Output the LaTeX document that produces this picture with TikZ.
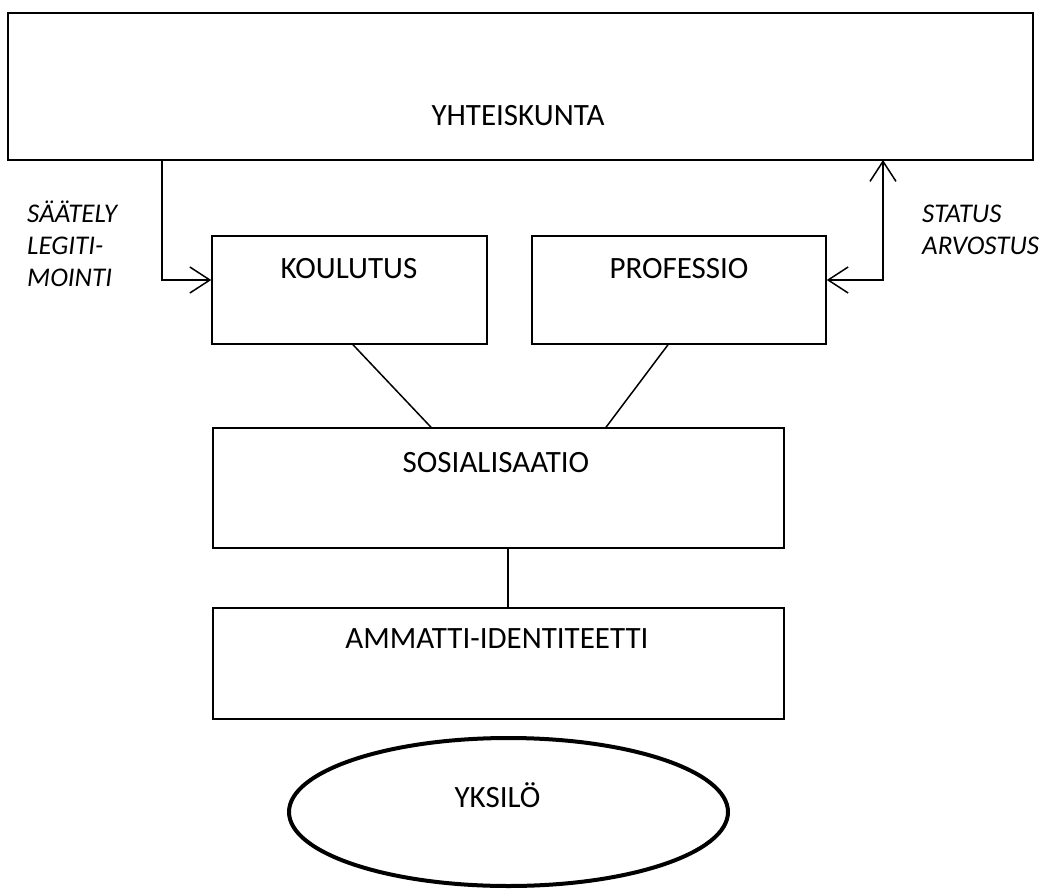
\documentclass[tikz,border=0pt]{standalone}
\usepackage{fontspec}
\setmainfont{Carlito}
\usepackage{tikz}
\usetikzlibrary{arrows.meta,shapes.geometric}

\tikzset{
  box/.style={draw, line width=1.5pt, inner sep=0pt},
  lbl/.style={anchor=base, inner sep=0pt, font=\fontsize{31}{37}\selectfont},
  note/.style={anchor=north west, align=left, inner sep=0pt,
               font=\fontsize{27}{32}\selectfont\itshape},
  link/.style={line width=1.5pt},
  arr/.style={line width=1.5pt, -{Straight Barb[length=20pt, width=26pt]}}
}

\begin{document}
\begin{tikzpicture}[x=1pt, y=1pt]
    \useasboundingbox (0,0) rectangle (1044,-891);
    % boxes
    \node[box, minimum width=1025pt, minimum height=147pt] (yht) at (520.5,-86.5) {};
    \node[box, minimum width=275pt, minimum height=108pt] (kou) at (349.5,-290) {};
    \node[box, minimum width=294pt, minimum height=108pt] (pro) at (679,-290) {};
    \node[box, minimum width=571pt, minimum height=120pt] (sos) at (498.5,-488) {};
    \node[box, minimum width=571pt, minimum height=111pt] (amm) at (498.5,-663.5) {};
    \node[draw, ellipse, line width=4pt, minimum width=439pt, minimum height=148pt] (yks) at (508.5,-812) {};
    % texts
    \node[lbl] (yhtT) at (518,-125) {YHTEISKUNTA};
    \node[lbl] (kouT) at (349,-278) {KOULUTUS};
    \node[lbl] (proT) at (679,-278) {PROFESSIO};
    \node[lbl] (sosT) at (496,-472) {SOSIALISAATIO};
    \node[lbl] (ammT) at (497,-648) {AMMATTI-IDENTITEETTI};
    \node[lbl] (yksT) at (497.5,-807) {YKSILÖ};
    \node[note] (saat) at (27,-201) {SÄÄTELY\\LEGITI-\\MOINTI};
    \node[note] (stat) at (922,-205) {STATUS\\ARVOSTUS};
    % connectors
    \coordinate (sa) at (162,-160);
    \coordinate (st) at (883,-160);
    \draw[arr] (sa) |- ([yshift=10pt]kou.west);
    \draw[arr, {Straight Barb[length=20pt, width=26pt]}-{Straight Barb[length=20pt, width=26pt]}] ([yshift=10pt]pro.east) -| (st);
    \draw[link] ([xshift=3.5pt]kou.south) -- ([xshift=-67.5pt]sos.north);
    \draw[link] ([xshift=-11pt]pro.south) -- ([xshift=107.5pt]sos.north);
    \draw[link] ([xshift=9.5pt]sos.south) -- ([xshift=9.5pt]amm.north);
  \end{tikzpicture}
\end{document}
